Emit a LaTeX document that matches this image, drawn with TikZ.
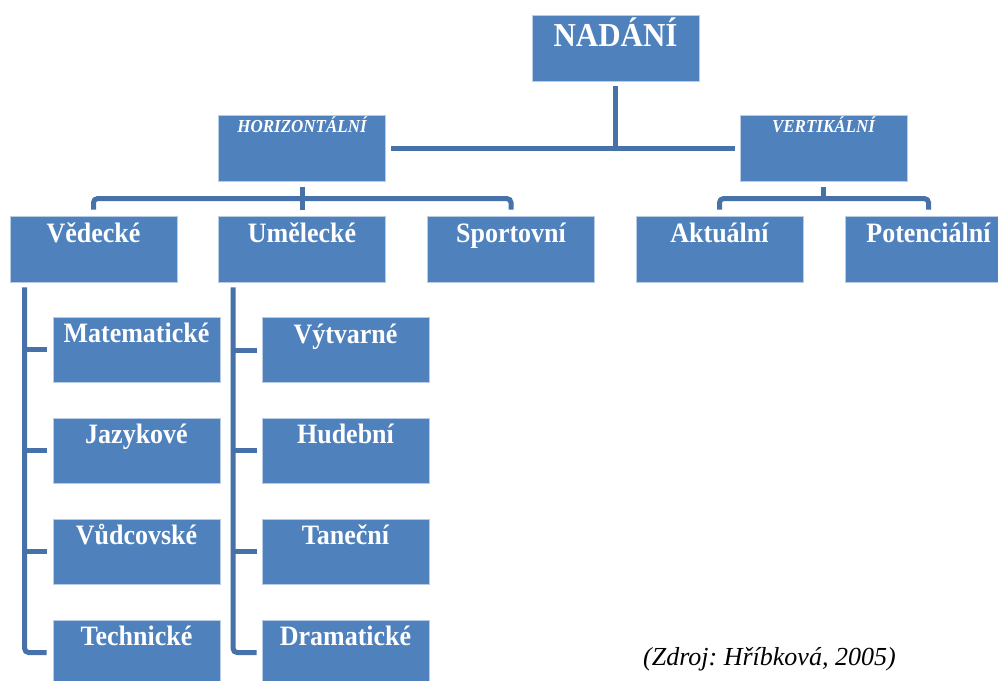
\documentclass[tikz,border=0pt]{standalone}
\usepackage{fontspec}
\usepackage{graphicx}
\setmainfont{Liberation Serif}
\usetikzlibrary{calc}
\definecolor{boxblue}{HTML}{4F81BD}
\definecolor{boxedge}{HTML}{B8CCE4}
\definecolor{linec}{HTML}{4672A9}
\newcommand{\vstretch}[1]{\scalebox{1}[1.08]{#1}}
\frenchspacing
\begin{document}
\begin{tikzpicture}[x=1pt,y=-1pt,
  box/.style={draw=boxedge, line width=0.8pt, fill=boxblue, minimum width=167pt, minimum height=66pt, inner sep=0pt},
  sub/.style={box, minimum height=65pt},
  lbl/.style={anchor=base, text=white, font=\fontsize{26}{30}\selectfont\bfseries, inner sep=0pt},
  conn/.style={draw=linec, line width=5pt},
]
\useasboundingbox (0,0) rectangle (998,680);
\fill[white] (0,0) rectangle (998,680);
% boxes
\node[box] (nad) at (615.5,48) {};
\node[box] (hor) at (302,148) {};
\node[box] (ver) at (823.5,148) {};
\node[box] (ved) at (93.5,249) {};
\node[box] (um) at (302,249) {};
\node[box] (spo) at (511,249) {};
\node[box] (akt) at (719.5,249) {};
\node[box] (pot) at (928.5,249) {};
\node[sub] (mat) at (136.5,349.5) {};
\node[sub] (jaz) at (136.5,450.5) {};
\node[sub] (vud) at (136.5,551.5) {};
\node[sub] (tech) at (136.5,652.5) {};
\node[sub] (vyt) at (345.5,350) {};
\node[sub] (hud) at (345.5,450.5) {};
\node[sub] (tan) at (345.5,551.5) {};
\node[sub] (dram) at (345.5,652.5) {};
% labels
\node[lbl, font=\fontsize{31}{36}\selectfont\bfseries] (nad-t) at ($(nad.north)+(0,32)$) {\vstretch{NADÁNÍ}};
\node[lbl, font=\fontsize{17}{20}\selectfont\bfseries\itshape] (hor-t) at ($(hor.north)+(0,18)$) {\vstretch{HORIZONTÁLNÍ}};
\node[lbl, font=\fontsize{17}{20}\selectfont\bfseries\itshape] (ver-t) at ($(ver.north)+(0,18)$) {\vstretch{VERTIKÁLNÍ}};
\node[lbl] (ved-t) at ($(ved.north)+(0,27)$) {\vstretch{Vědecké}};
\node[lbl] (um-t) at ($(um.north)+(0,27)$) {\vstretch{Umělecké}};
\node[lbl] (spo-t) at ($(spo.north)+(0,27)$) {\vstretch{Sportovní}};
\node[lbl] (akt-t) at ($(akt.north)+(0,27)$) {\vstretch{Aktuální}};
\node[lbl] (pot-t) at ($(pot.north)+(0,27)$) {\vstretch{Potenciální}};
\node[lbl] (mat-t) at ($(mat.north)+(0,26)$) {\vstretch{Matematické}};
\node[lbl] (jaz-t) at ($(jaz.north)+(0,26)$) {\vstretch{Jazykové}};
\node[lbl] (vud-t) at ($(vud.north)+(0,26)$) {\vstretch{Vůdcovské}};
\node[lbl] (tech-t) at ($(tech.north)+(0,26)$) {\vstretch{Technické}};
\node[lbl] (vyt-t) at ($(vyt.north)+(0,26)$) {\vstretch{Výtvarné}};
\node[lbl] (hud-t) at ($(hud.north)+(0,26)$) {\vstretch{Hudební}};
\node[lbl] (tan-t) at ($(tan.north)+(0,26)$) {\vstretch{Taneční}};
\node[lbl] (dram-t) at ($(dram.north)+(0,26)$) {\vstretch{Dramatické}};
% connectors
\draw[conn, shorten <=5pt] (nad.south) -- (nad.south |- hor.east);
\draw[conn, shorten <=5pt, shorten >=5pt] (hor.east) -- (ver.west);
\draw[conn, shorten <=6pt, shorten >=6pt] (hor.south) -- (um.north);
\draw[conn, rounded corners=4pt, shorten <=6pt, shorten >=6pt] (ved.north) -- ++(0,-17) -| (spo.north);
\draw[conn, shorten <=6pt] (ver.south) -- ++(0,18);
\draw[conn, rounded corners=4pt, shorten <=6pt, shorten >=6pt] (akt.north) -- ++(0,-17) -| (pot.north);
\coordinate (vt) at ($(ved.south west)+(15,0)$);
\coordinate (ut) at ($(um.south west)+(15,0)$);
\draw[conn, rounded corners=4pt, shorten <=5pt, shorten >=6pt] (vt) |- (tech.west);
\draw[conn, rounded corners=4pt, shorten <=5pt, shorten >=5pt] (ut) |- (dram.west);
\foreach \n in {mat,jaz,vud}{\draw[conn, shorten >=6pt] (vt |- \n.west) -- (\n.west);}
\foreach \n in {vyt,hud,tan}{\draw[conn, shorten >=5pt] (ut |- \n.west) -- (\n.west);}
% source
\node[anchor=base west, inner sep=0pt, font=\fontsize{26}{30}\selectfont\itshape] (src) at (643,665) {(Zdroj: Hříbková, 2005)};
\end{tikzpicture}
\end{document}
